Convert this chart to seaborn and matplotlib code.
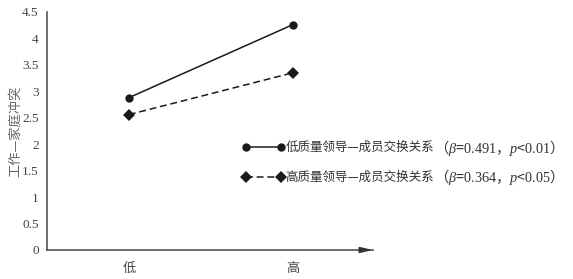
import matplotlib
matplotlib.use("Agg")
import matplotlib.pyplot as plt
import seaborn as sns
import pandas as pd

# Simple-slope data: work-family conflict at low / high levels of the predictor
levels = ["低", "高"]
low_lmx = [2.88, 4.26]
high_lmx = [2.56, 3.35]
series_names = ["低质量领导—成员交换关系", "高质量领导—成员交换关系"]
betas = ["0.491", "0.364"]
p_bounds = ["0.01", "0.05"]
y_label = "工作—家庭冲突"
y_ticks = [0, 0.5, 1, 1.5, 2, 2.5, 3, 3.5, 4, 4.5]

df = pd.DataFrame({
    "level": levels * 2,
    "value": low_lmx + high_lmx,
    "group": [series_names[0]] * 2 + [series_names[1]] * 2,
})

sns.set_theme(style="white")
plt.rcParams["font.family"] = ["Liberation Serif", "Noto Sans CJK SC"]
plt.rcParams["mathtext.fontset"] = "custom"
plt.rcParams["mathtext.rm"] = "Liberation Serif"
plt.rcParams["mathtext.it"] = "Liberation Serif:italic"

fig = plt.figure(figsize=(5.73, 2.79), dpi=100)
ax = fig.add_axes([47 / 573, 1 - 250 / 279, 326 / 573, 238 / 279])

sns.lineplot(
    data=df, x="level", y="value", hue="group", style="group",
    palette=["#1a1a1a", "#1a1a1a"],
    markers={series_names[0]: "o", series_names[1]: "D"},
    dashes={series_names[0]: "", series_names[1]: (4.5, 2.5)},
    markersize=6, linewidth=1.1, markeredgewidth=0,
    sort=False, ax=ax, legend=True,
)
handles, labels = ax.get_legend_handles_labels()
ax.get_legend().remove()

ax.set_xlim(-0.5, 1.49)
ax.set_ylim(0, 4.5)
ax.set_yticks(y_ticks)
ax.set_yticklabels([f"{t:g}" for t in y_ticks])
ax.set_xlabel("")
ax.set_ylabel(y_label, family=["Noto Sans CJK SC"], fontsize=9.5, color="#666666")
ax.yaxis.set_label_coords(-0.077, 0.5)

for side in ["top", "right"]:
    ax.spines[side].set_visible(False)
for side in ["left", "bottom"]:
    ax.spines[side].set_color("#555555")
    ax.spines[side].set_linewidth(1.2)

ax.tick_params(axis="y", length=0, pad=6, labelsize=9.5, labelcolor="#444444")
ax.tick_params(axis="x", length=0, pad=8.5, labelsize=9.5, labelcolor="#444444")
for lab in ax.get_xticklabels():
    lab.set_family(["Noto Sans CJK SC"])

# arrowhead at the end of the x axis
ax.annotate("", xy=(1.0, 0), xycoords="axes fraction", xytext=(0.97, 0),
            arrowprops=dict(arrowstyle="-|>,head_length=0.6,head_width=0.14",
                            color="#333333", lw=1.2, shrinkA=0, shrinkB=0),
            annotation_clip=False)

for h in handles:
    h.set_markersize(6)
leg = fig.legend(handles, labels, loc="center left",
                 bbox_to_anchor=(236 / 573, 1 - 162.5 / 279),
                 bbox_transform=fig.transFigure, frameon=False,
                 prop={"family": ["Noto Sans CJK SC"], "size": 9},
                 labelcolor="#333333", numpoints=2, handlelength=3.4,
                 handletextpad=0.05, borderpad=0, labelspacing=1.35)

# regression statistics appended after each legend label
fig.canvas.draw()
for txt, b, p in zip(leg.get_texts(), betas, p_bounds):
    stats = rf"（$\mathit{{\beta}}$=$\mathrm{{{b}}}$，$\mathit{{p}}$<$\mathrm{{{p}}}$）"
    ax.annotate(stats, xy=(1, 0.5), xycoords=txt, ha="left", va="center",
                family=["Noto Sans CJK SC"], fontsize=10.3, color="#333333",
                annotation_clip=False)

fig.savefig("out.png", dpi=100)
